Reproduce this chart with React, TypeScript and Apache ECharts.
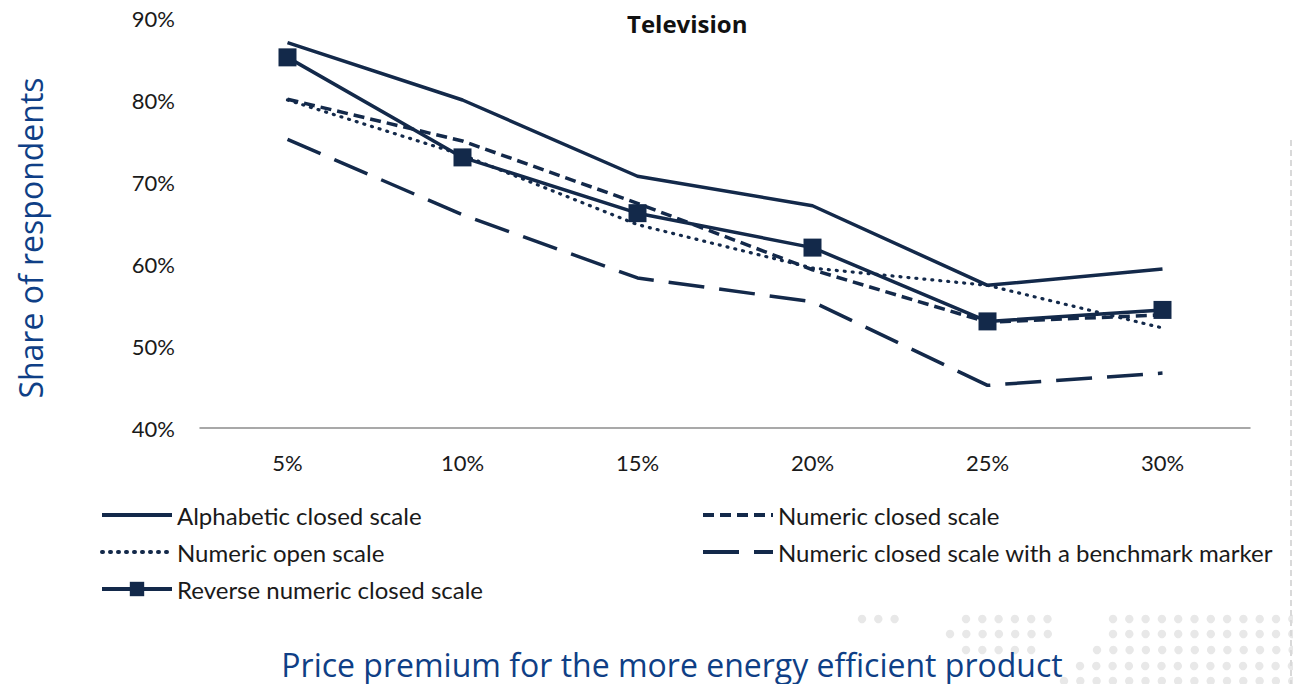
import React, { useEffect, useRef } from "react";
import * as echarts from "echarts";

const categories = ["5%", "10%", "15%", "20%", "25%", "30%"];
const alphabeticClosed = [87.0, 80.0, 70.7, 67.1, 57.4, 59.4];
const numericClosed = [80.1, 75.0, 67.4, 59.3, 52.9, 53.8];
const numericOpen = [80.0, 73.3, 64.8, 59.5, 57.4, 52.2];
const benchmarkMarker = [75.2, 66.0, 58.3, 55.4, 45.2, 46.7];
const reverseNumeric = [85.2, 73.0, 66.2, 62.0, 53.0, 54.4];
const yTicks = [40, 50, 60, 70, 80, 90];

const NAVY = "#13294a";
const BLUE = "#0f3f86";

// decorative dot pattern rows: [y, [xStart, xEnd][]]
const dotRows: [number, [number, number][]][] = [
  [619, [[862, 895], [966, 1048], [1113, 1293]]],
  [634, [[950, 1048], [1113, 1293]]],
  [650, [[966, 1032], [1097, 1293]]],
  [666, [[1080, 1293]]],
  [681, [[1064, 1293]]],
];

export default function App() {
  const ref = useRef<HTMLDivElement>(null);
  useEffect(() => {
    document.body.style.margin = "0";
    const chart = echarts.init(ref.current!, null, { renderer: "svg" });
    const dots: any[] = [];
    dotRows.forEach(([y, ranges]) => {
      ranges.forEach(([a, b]) => {
        for (let x = a; x <= b; x += 16.3) {
          dots.push({
            type: "circle",
            shape: { cx: x, cy: y, r: 4.2 },
            style: { fill: "#e8e8e8" },
            silent: true,
            z: -1,
          });
        }
      });
    });
    const legendText = { fontSize: 24, color: "#1a1a1a", fontFamily: "Lato" };
    const mkLegend = (name: string, left: number, top: number, hideSymbol: boolean) => ({
      data: [
        hideSymbol
          ? { name, itemStyle: { color: "rgba(0,0,0,0)", borderWidth: 0, opacity: 0 } }
          : { name },
      ],
      left,
      top,
      padding: 0,
      itemWidth: 70,
      itemHeight: 18,
      itemGap: 0,
      lineStyle: { width: 4 },
      textStyle: legendText,
      selectedMode: false,
    });
    const font = "Lato";
    chart.setOption({
      animation: false,
      title: {
        text: "Television",
        left: 622,
        top: 6,
        textStyle: { fontSize: 24, fontWeight: "bold", color: "#111", fontFamily: "Open Sans" },
      },
      grid: { left: 200, right: 43, top: 18, bottom: 256 },
      legend: [
        mkLegend("Alphabetic closed scale", 100, 503, true),
        mkLegend("Numeric closed scale", 701, 503, true),
        mkLegend("Numeric open scale", 100, 540, true),
        mkLegend("Numeric closed scale with a benchmark marker", 701, 540, true),
        mkLegend("Reverse numeric closed scale", 100, 577, false),
      ],
      xAxis: {
        type: "category",
        data: categories,
        boundaryGap: true,
        axisLine: { show: true, lineStyle: { color: "#8c8c8c", width: 1.5 } },
        axisTick: { show: false },
        axisLabel: { fontSize: 22, color: "#1a1a1a", margin: 23, fontFamily: font },
      },
      yAxis: {
        type: "value",
        min: 40,
        max: 90,
        interval: 10,
        axisLine: { show: false },
        axisTick: { show: false },
        splitLine: { show: false },
        axisLabel: {
          fontSize: 22,
          color: "#1a1a1a",
          margin: 25,
          fontFamily: font,
          formatter: (v: number) => (yTicks.includes(v) ? v + "%" : ""),
        },
      },
      graphic: [
        {
          type: "text",
          x: 30,
          y: 238,
          rotation: Math.PI / 2,
          style: {
            text: "Share of respondents",
            fontSize: 32,
            fill: BLUE,
            fontFamily: "Open Sans",
            textAlign: "center",
            textVerticalAlign: "middle",
          },
        },
        {
          type: "text",
          x: 672,
          y: 664,
          style: {
            text: "Price premium for the more energy efficient product",
            fontSize: 32,
            fill: BLUE,
            fontFamily: "Open Sans",
            textAlign: "center",
            textVerticalAlign: "middle",
          },
        },
        {
          type: "line",
          shape: { x1: 1291, y1: 140, x2: 1291, y2: 684 },
          style: { stroke: "#d9d9d9", lineWidth: 2, lineDash: [6, 4] },
          silent: true,
        },
        ...dots,
      ],
      series: [
        {
          name: "Alphabetic closed scale",
          type: "line",
          data: alphabeticClosed,
          symbol: "none",
          lineStyle: { color: NAVY, width: 3.5 },
          itemStyle: { color: NAVY },
        },
        {
          name: "Numeric closed scale",
          type: "line",
          data: numericClosed,
          symbol: "none",
          lineStyle: { color: NAVY, width: 3.5, type: [11, 6] },
          itemStyle: { color: NAVY },
        },
        {
          name: "Numeric open scale",
          type: "line",
          data: numericOpen,
          symbol: "none",
          lineStyle: { color: NAVY, width: 3.2, type: [1, 7], cap: "round" },
          itemStyle: { color: NAVY },
        },
        {
          name: "Numeric closed scale with a benchmark marker",
          type: "line",
          data: benchmarkMarker,
          symbol: "none",
          lineStyle: { color: NAVY, width: 3.5, type: [36, 15] },
          itemStyle: { color: NAVY },
        },
        {
          name: "Reverse numeric closed scale",
          type: "line",
          data: reverseNumeric,
          symbol: "rect",
          symbolSize: 18,
          lineStyle: { color: NAVY, width: 3.5 },
          itemStyle: { color: NAVY },
        },
      ],
    });
    return () => chart.dispose();
  }, []);
  return <div ref={ref} style={{ width: 1293, height: 684 }} />;
}
